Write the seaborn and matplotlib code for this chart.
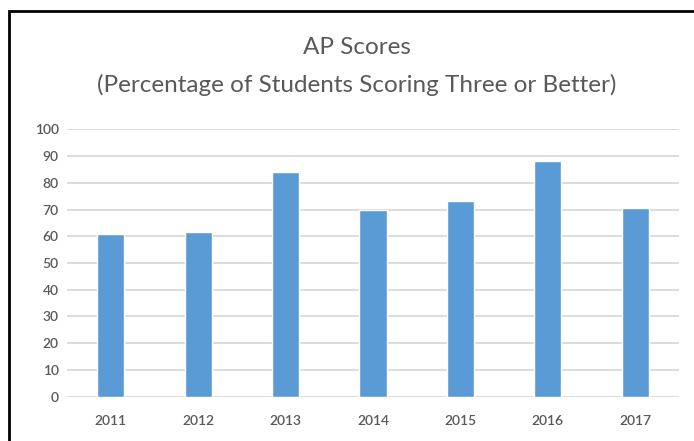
import matplotlib
matplotlib.use("Agg")
import matplotlib.pyplot as plt
import seaborn as sns
import pandas as pd
from matplotlib.patches import Rectangle

# data
years = ["2011", "2012", "2013", "2014", "2015", "2016", "2017"]
pct_three_or_better = [61, 61.5, 84, 70, 73, 88, 70.5]

df = pd.DataFrame({"Year": years, "Percent": pct_three_or_better})

sns.set_theme(style="white")
plt.rcParams["font.family"] = ["Lato", "DejaVu Sans"]

text_grey = "#595959"
bar_blue = "#5B9BD5"
grid_grey = "#D9D9D9"

fig = plt.figure(figsize=(6.94, 4.41), dpi=100)
ax = fig.add_axes([67 / 694, 1 - 396.7 / 441, 612 / 694, 267.4 / 441])

sns.barplot(data=df, x="Year", y="Percent", color=bar_blue, width=0.31,
            saturation=1, ax=ax, zorder=3)

ax.set_ylim(0, 100)
ax.set_xlim(-0.5, 6.5)
ax.set_yticks(range(0, 101, 10))
ax.yaxis.grid(True, color=grid_grey, linewidth=1.3, zorder=0)
ax.set_axisbelow(True)
for s in ax.spines.values():
    s.set_visible(False)
ax.set_xlabel("")
ax.set_ylabel("")
ax.tick_params(axis="y", length=0, pad=6, labelsize=10, labelcolor=text_grey)
ax.tick_params(axis="x", length=0, pad=13, labelsize=10, labelcolor=text_grey)
for lbl in ax.get_xticklabels() + ax.get_yticklabels():
    lbl.set_fontweight("semibold")

# title (two lines)
fig.text(357 / 694, 1 - 47 / 441, "AP Scores", ha="center", va="center",
         fontsize=17.5, color=text_grey)
fig.text(357 / 694, 1 - 85 / 441, "(Percentage of Students Scoring Three or Better)",
         ha="center", va="center", fontsize=17.5, color=text_grey)

# outer frame
fig.patches.append(Rectangle((9 / 694, -0.1), 1.1, 1 - 11 / 441 + 0.1,
                             transform=fig.transFigure, fill=False,
                             edgecolor="black", linewidth=2, clip_on=False))

fig.savefig("out.png", dpi=100)
